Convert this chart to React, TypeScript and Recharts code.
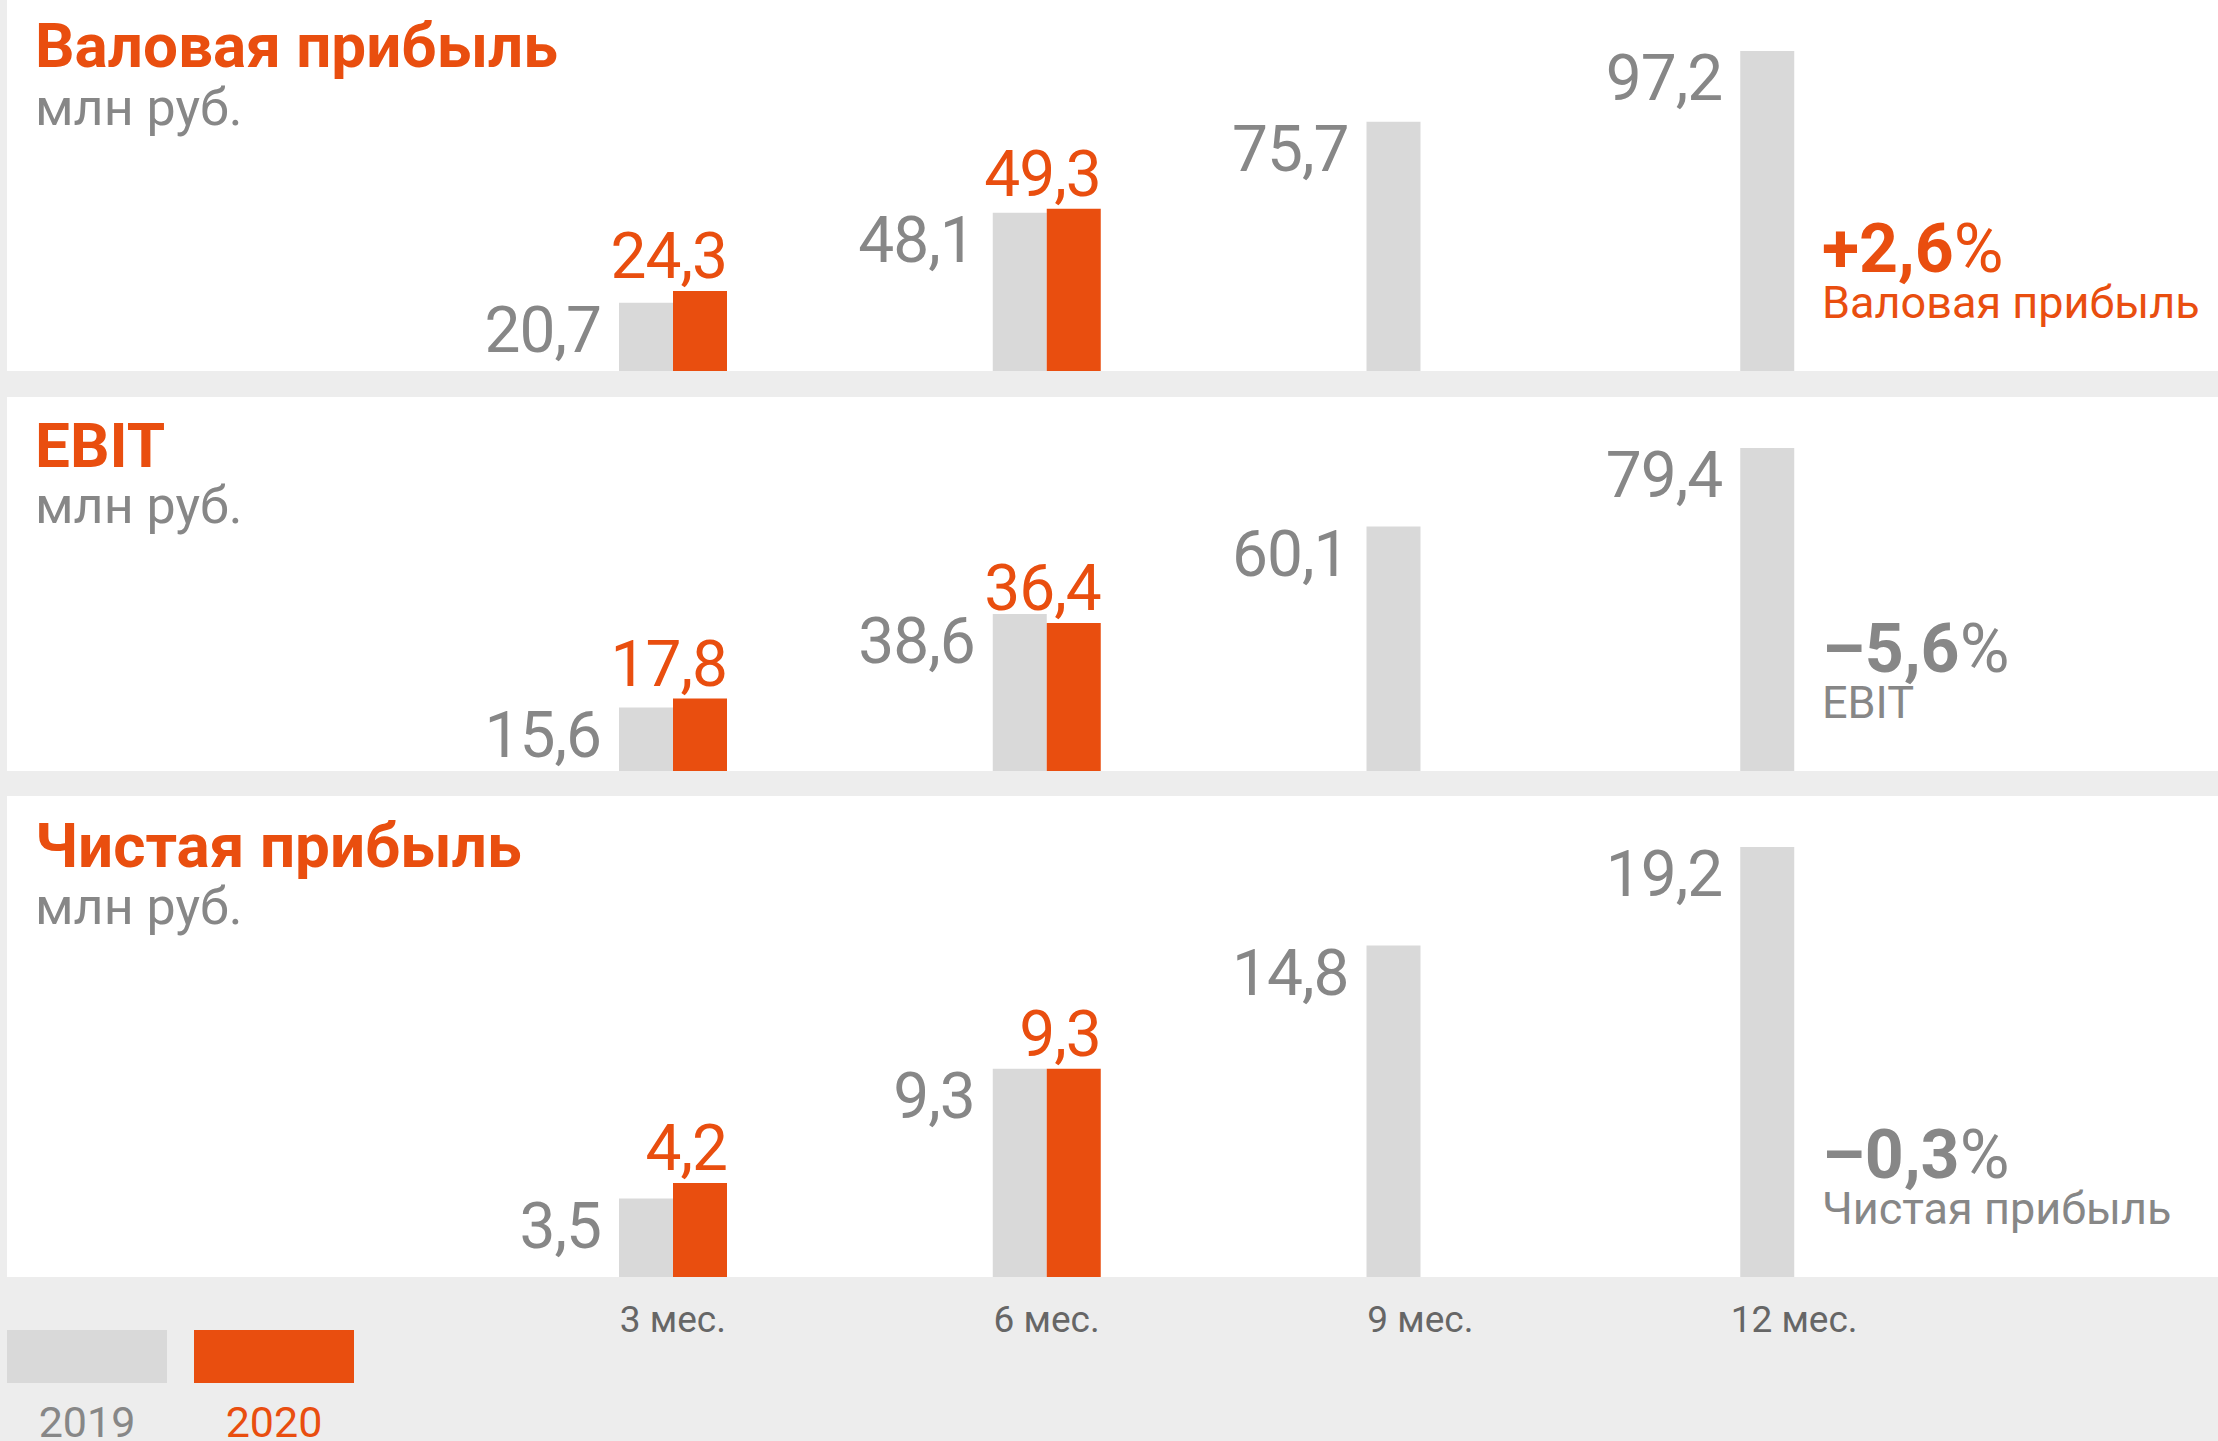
import React from 'react';
import { BarChart, Bar, XAxis, YAxis, LabelList } from 'recharts';

const categories = ['3 мес.', '6 мес.', '9 мес.', '12 мес.'];
const years = ['2019', '2020'];

const grossProfit2019 = [20.7, 48.1, 75.7, 97.2];
const grossProfit2020 = [24.3, 49.3, null, null];
const ebit2019 = [15.6, 38.6, 60.1, 79.4];
const ebit2020 = [17.8, 36.4, null, null];
const netProfit2019 = [3.5, 9.3, 14.8, 19.2];
const netProfit2020 = [4.2, 9.3, null, null];

const panelTitles = ['Валовая прибыль', 'EBIT', 'Чистая прибыль'];
const changeValues = ['+2,6', '–5,6', '–0,3'];

const FONT = 'Roboto, "Noto Sans", sans-serif';
const ORANGE = '#e94e0f';
const GRAY_BAR = '#d9d9d9';
const GRAY_TEXT = '#878787';
const AXIS_TEXT = '#666666';
const BG = '#ededed';

const fmt = (v: number) => v.toFixed(1).replace('.', ',');

const GrayLabel = (props: any) => {
  const { x, y, value } = props;
  if (value == null) return null;
  return (
    <text x={x - 18} y={y + 49} textAnchor="end" fontSize={64} letterSpacing={-1} fill={GRAY_TEXT} fontFamily={FONT}>
      {fmt(value)}
    </text>
  );
};

const OrangeLabel = (props: any) => {
  const { x, y, width, value } = props;
  if (value == null) return null;
  return (
    <text x={x + width} y={y - 13} textAnchor="end" fontSize={64} letterSpacing={-1} fill={ORANGE} fontFamily={FONT}>
      {fmt(value)}
    </text>
  );
};

interface PanelProps {
  title: string;
  change: string;
  changeColor: string;
  v2019: (number | null)[];
  v2020: (number | null)[];
  top: number;
  height: number;
  titleY: number;
  unitY: number;
  changeY: number;
  showAxis?: boolean;
}

const AXIS_H = 110;

function Panel({ title, change, changeColor, v2019, v2020, top, height, titleY, unitY, changeY, showAxis }: PanelProps) {
  const data = categories.map((name, i) => ({ name, y2019: v2019[i], y2020: v2020[i] }));
  const max = Math.max(...[...v2019, ...v2020].filter((v): v is number => v != null));
  return (
    <>
      <div style={{ position: 'absolute', left: 7, top, width: 2211, height, background: '#fff' }} />
      <div style={{ position: 'absolute', left: 0, top }}>
        <BarChart
          width={2218}
          height={showAxis ? height + AXIS_H : height}
          data={data}
          margin={{ top: 51, right: 237, left: 486, bottom: 0 }}
          barGap={0}
        >
          <XAxis
            dataKey="name"
            hide={!showAxis}
            axisLine={false}
            tickLine={false}
            interval={0}
            height={AXIS_H}
            tickMargin={23}
            tick={{ fontSize: 37, fill: AXIS_TEXT, fontFamily: FONT }}
          />
          <YAxis hide domain={[0, max]} allowDataOverflow type="number" />
          <Bar dataKey="y2019" name={years[0]} fill={GRAY_BAR} barSize={54} isAnimationActive={false}>
            <LabelList dataKey="y2019" content={GrayLabel} />
          </Bar>
          <Bar dataKey="y2020" name={years[1]} fill={ORANGE} barSize={54} isAnimationActive={false}>
            <LabelList dataKey="y2020" content={OrangeLabel} />
          </Bar>
        </BarChart>
      </div>
      <svg
        width={2218}
        height={height}
        style={{ position: 'absolute', left: 0, top, pointerEvents: 'none' }}
        fontFamily={FONT}
      >
        <text x={35} y={titleY} fontSize={62} fontWeight={700} fill={ORANGE}>{title}</text>
        <text x={35} y={unitY} fontSize={52} fill={GRAY_TEXT}>млн руб.</text>
        <text x={1822} y={changeY} fontSize={68} fill={changeColor}>
          <tspan fontWeight={700}>{change}</tspan>
          <tspan>%</tspan>
        </text>
        <text x={1822} y={changeY + 46} fontSize={45} fill={changeColor}>{title}</text>
      </svg>
    </>
  );
}

export default function App() {
  return (
    <div style={{ position: 'absolute', left: 0, top: 0, width: 2218, height: 1441, background: BG, overflow: 'hidden' }}>
      <Panel title={panelTitles[0]} change={changeValues[0]} changeColor={ORANGE}
        v2019={grossProfit2019} v2020={grossProfit2020} top={0} height={371} titleY={67} unitY={125} changeY={272} />
      <Panel title={panelTitles[1]} change={changeValues[1]} changeColor={GRAY_TEXT}
        v2019={ebit2019} v2020={ebit2020} top={397} height={374} titleY={70} unitY={126} changeY={275} />
      <Panel title={panelTitles[2]} change={changeValues[2]} changeColor={GRAY_TEXT}
        v2019={netProfit2019} v2020={netProfit2020} top={796} height={481} titleY={71} unitY={128} changeY={382} showAxis />
      <div style={{ position: 'absolute', left: 7, top: 1330, width: 160, height: 53, background: GRAY_BAR }} />
      <div style={{ position: 'absolute', left: 194, top: 1330, width: 160, height: 53, background: ORANGE }} />
      <svg width={400} height={111} style={{ position: 'absolute', left: 0, top: 1330 }} fontFamily={FONT}>
        <text x={87} y={107} textAnchor="middle" fontSize={43} fill={GRAY_TEXT}>{years[0]}</text>
        <text x={274} y={107} textAnchor="middle" fontSize={43} fill={ORANGE}>{years[1]}</text>
      </svg>
    </div>
  );
}
